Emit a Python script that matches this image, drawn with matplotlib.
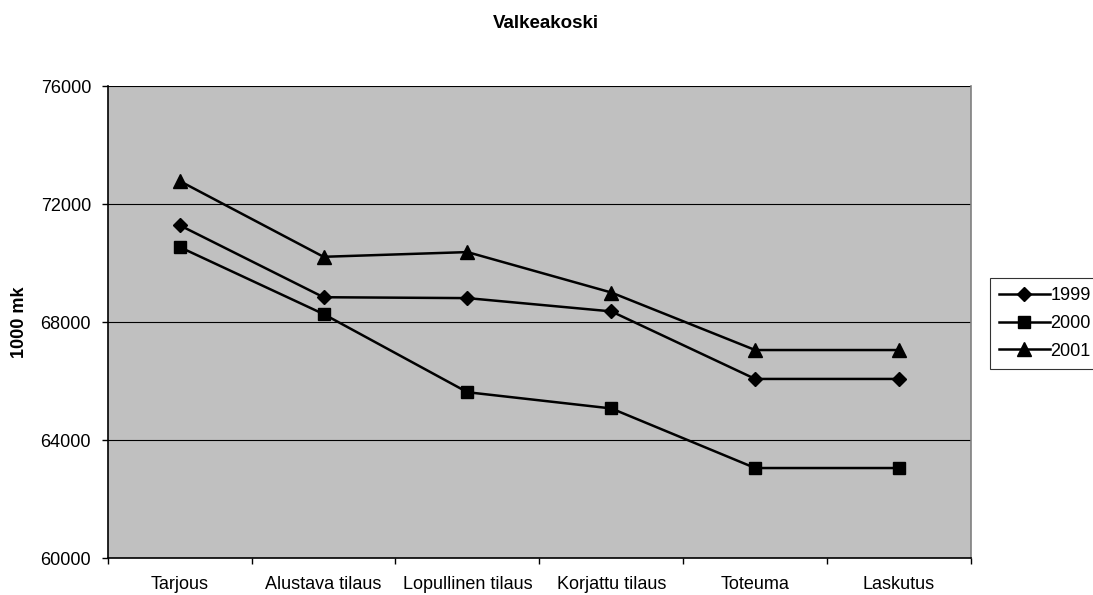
import matplotlib
matplotlib.use("Agg")
import matplotlib.pyplot as plt
from matplotlib.ticker import FixedLocator, NullFormatter

plt.rcParams['font.family'] = ['Liberation Sans', 'DejaVu Sans']

# Data
categories = ["Tarjous", "Alustava tilaus", "Lopullinen tilaus",
              "Korjattu tilaus", "Toteuma", "Laskutus"]
years = ["1999", "2000", "2001"]
values_1999 = [71290, 68850, 68820, 68370, 66080, 66080]
values_2000 = [70550, 68280, 65630, 65080, 63060, 63060]
values_2001 = [72790, 70220, 70380, 69010, 67060, 67060]
y_ticks = [60000, 64000, 68000, 72000, 76000]

series = [values_1999, values_2000, values_2001]
markers = ["D", "s", "^"]
msizes = [7.5, 8.5, 9.5]

W, H = 1093, 595
fig = plt.figure(figsize=(W / 100, H / 100), dpi=100)
fig.patch.set_facecolor("white")

left, right, top, bottom = 107.7, 971, 86.3, 558.3
ax = fig.add_axes([left / W, 1 - bottom / H, (right - left) / W, (bottom - top) / H])
ax.set_facecolor("#C0C0C0")

x = list(range(len(categories)))
handles = []
for vals, mk, ms, lab in zip(series, markers, msizes, years):
    h, = ax.plot(x, vals, color="black", lw=1.8, marker=mk, markersize=ms,
                 markerfacecolor="black", markeredgecolor="black", label=lab,
                 zorder=3)
    handles.append(h)

ax.set_xlim(-0.5, len(categories) - 0.5)
ax.set_ylim(y_ticks[0], y_ticks[-1])
ax.set_yticks(y_ticks)
ax.set_yticklabels([str(v) for v in y_ticks])
ax.yaxis.grid(True, color="black", lw=0.8)
ax.set_axisbelow(True)

# category labels without marks; tick marks between categories
ax.set_xticks(x)
ax.set_xticklabels(categories)
ax.tick_params(axis="x", which="major", length=0, pad=12.5, labelsize=13)
ax.xaxis.set_minor_locator(FixedLocator([i - 0.5 for i in range(len(categories) + 1)]))
ax.xaxis.set_minor_formatter(NullFormatter())
ax.tick_params(axis="x", which="minor", length=4, width=1, color="black", direction="out")
ax.tick_params(axis="y", length=4, width=1, color="black", direction="out",
               pad=8, labelsize=13)

for s in ["left", "bottom"]:
    ax.spines[s].set_color("black")
    ax.spines[s].set_linewidth(1.2)
ax.spines["top"].set_visible(False)
ax.spines["right"].set_color("#808080")
ax.spines["right"].set_linewidth(1.2)

fig.text(545.5 / W, 1 - 23 / H, "Valkeakoski", ha="center", va="center",
         fontsize=13.5, fontweight="bold")
fig.text(20 / W, 1 - 322 / H, "1000 mk", ha="center", va="center",
         rotation=90, fontsize=13, fontweight="bold")

leg = fig.legend(handles=handles, labels=years, loc="upper left",
                 bbox_to_anchor=(990 / W, 1 - 278 / H), bbox_transform=fig.transFigure,
                 frameon=True, fancybox=False, fontsize=13, handlelength=2.8,
                 handletextpad=0.05, labelspacing=0.6, borderpad=0.5,
                 borderaxespad=0)
leg.get_frame().set_edgecolor("black")
leg.get_frame().set_linewidth(0.8)

fig.savefig("out.png", dpi=100)
